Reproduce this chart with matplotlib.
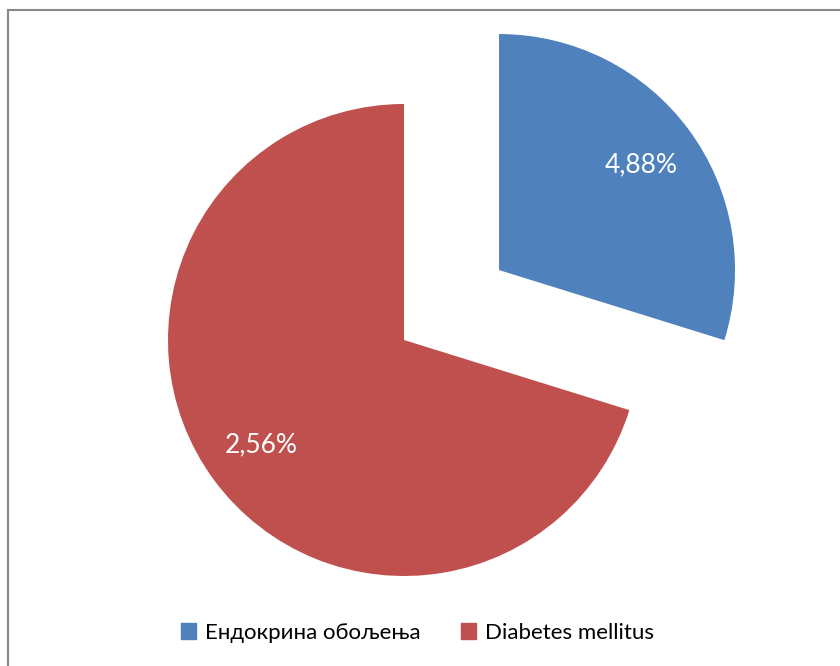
import matplotlib.pyplot as plt
from matplotlib.patches import Rectangle

# slice shares, labels as printed on the chart
categories = ['Ендокрина обољења', 'Diabetes mellitus']
shares = [29.8, 70.2]
value_labels = ['4,88%', '2,56%']
colors = ['#4F81BD', '#C0504D']

plt.rcParams['font.family'] = ['Lato', 'DejaVu Sans']

fig = plt.figure(figsize=(8.4, 6.66), dpi=100)
ax = fig.add_axes([0, 0, 1, 1])

R = 236
lbl = iter(value_labels)
wedges, texts, autotexts = ax.pie(
    shares, colors=colors, startangle=90, counterclock=False,
    explode=[0.5 * R, 0], radius=R, center=(404, 326),
    autopct=lambda p: next(lbl), pctdistance=0.75,
    textprops={'color': 'white', 'fontsize': 19},
    wedgeprops={'linewidth': 0})
ax.set_xlim(0, 840)
ax.set_ylim(0, 666)
ax.set_aspect('equal')
ax.axis('off')

handles = [Rectangle((0, 0), 1, 1, color=c) for c in colors]
leg = fig.legend(handles, categories, loc='center', bbox_to_anchor=(0.497, 0.05),
                 ncol=2, frameon=False, fontsize=16, handlelength=0.7,
                 handleheight=0.7, handletextpad=0.4, columnspacing=1.8)

# chart frame, cut off at right and bottom like the original
fig.patches.append(Rectangle((8 / 840, -0.1), 1.2, (666 - 10) / 666 + 0.1,
                             transform=fig.transFigure, fill=False,
                             edgecolor='#878787', linewidth=1.5))

fig.savefig('out.png', dpi=100)
